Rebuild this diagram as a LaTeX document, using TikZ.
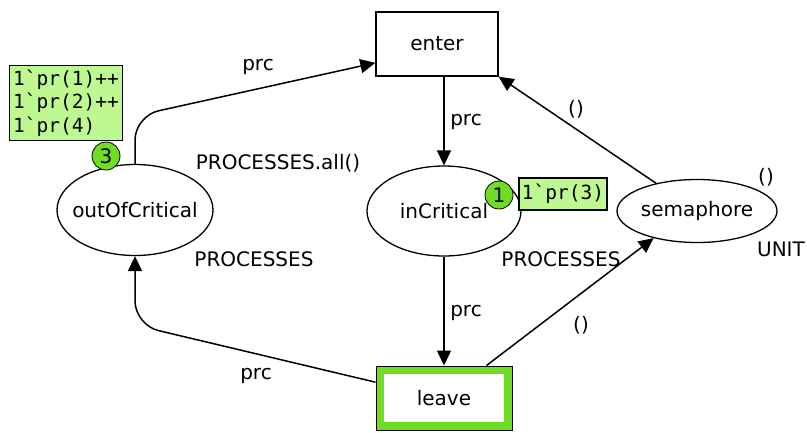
\documentclass[tikz,border=0pt]{standalone}
\usepackage{fontspec}
\setmainfont{DejaVu Sans}
\setmonofont{DejaVu Sans Mono}
\usepackage{xcolor}
\usetikzlibrary{arrows.meta,shapes.geometric}

\definecolor{tokgreen}{RGB}{112,220,36}
\definecolor{markgreen}{RGB}{190,248,145}

\begin{document}
\begin{tikzpicture}[
    x=1pt, y=-1pt,
    font=\fontsize{20}{24}\selectfont,
    >={Triangle[length=15pt,width=14pt]},
    place/.style={draw, ellipse, line width=1.3pt, fill=white, inner xsep=-12pt, inner ysep=0pt},
    transition/.style={draw, rectangle, line width=1.3pt, fill=white, minimum width=122pt, minimum height=64pt},
    token/.style={draw, circle, line width=0.8pt, fill=tokgreen, minimum size=28pt, inner sep=0pt},
    marking/.style={draw, rectangle, line width=1.3pt, fill=markgreen, align=left, inner sep=3pt, font=\fontsize{19.5}{23.5}\ttfamily},
    arc/.style={->, line width=1.5pt},
    lbl/.style={inner sep=1pt}
]
\fill[white] (0,0) rectangle (807,432);

% places
\node[place, minimum width=156pt, minimum height=91pt] (outCrit) at (135,210) {outOfCritical};
\node[place, minimum width=154pt, minimum height=90pt] (inCrit) at (444,211) {inCritical};
\node[place, minimum width=160pt, minimum height=63pt] (sema) at (697,211) {semaphore};

% transitions
\node[transition] (enter) at (437,44) {enter};
\node[transition, minimum width=136pt, line width=1pt,
      path picture={\draw[tokgreen, line width=16pt] (path picture bounding box.south west) rectangle (path picture bounding box.north east);}]
      (leave) at (444,398) {leave};

% markings
\node[token] (tok3) at (106,156) {3};
\node[marking, minimum width=113pt, minimum height=75pt] (mark3) at (66,103) {1`pr(1)++\\1`pr(2)++\\1`pr(4)};
\node[token] (tok1) at (499,195) {1};
\node[marking, minimum width=82pt, minimum height=32pt] (mark1) at (563,194) {1`pr(3)};

% bends
\coordinate (topBend) at (135,116);
\coordinate (lowBend) at (135,325);

% arcs
\draw[arc, rounded corners=24pt] (outCrit.north) -- (topBend) -- (enter.197);
\draw[arc] (enter.south -| inCrit.north) -- (inCrit.north);
\draw[arc] (sema) -- (enter.south east);
\draw[arc] (inCrit.south) -- (leave.north -| inCrit.south);
\draw[arc] (leave) -- (sema.212);
\draw[arc, rounded corners=24pt] (leave.167) -- (lowBend) -- (outCrit.south);

% inscriptions
\node[lbl] (prcA) at (258,67) {prc};
\node[lbl] (prcB) at (466,122) {prc};
\node[lbl] (prcC) at (466,313) {prc};
\node[lbl] (prcD) at (256,376) {prc};
\node[lbl] (unitA) at (576,109) {()};
\node[lbl] (unitB) at (581,325) {()};
\node[lbl] (initAll) at (278,163) {PROCESSES.all()};
\node[lbl] (typeOut) at (254,259) {PROCESSES};
\node[lbl] (typeIn) at (561,259) {PROCESSES};
\node[lbl] (initSema) at (766,177) {()};
\node[lbl] (typeSema) at (781,249) {UNIT};
\end{tikzpicture}
\end{document}
